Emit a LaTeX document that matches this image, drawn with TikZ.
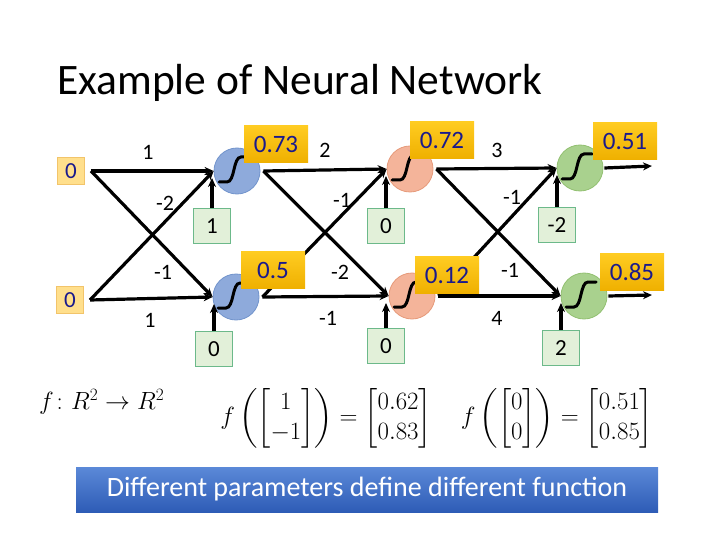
\documentclass[tikz,border=0pt]{standalone}
\usepackage{fontspec}
\usepackage{amsmath}
\setmainfont{Carlito}
\usetikzlibrary{arrows.meta,calc}
\definecolor{inFill}{HTML}{FFDF8C}
\definecolor{inDraw}{HTML}{F2C46A}
\definecolor{outTop}{HTML}{FFCC22}
\definecolor{outBot}{HTML}{EFB000}
\definecolor{txtBlue}{HTML}{1A1A8C}
\definecolor{biasFill}{HTML}{E2F0D9}
\definecolor{biasDraw}{HTML}{6CB98A}
\definecolor{blueFill}{HTML}{8EAADB}
\definecolor{blueDraw}{HTML}{7294CC}
\definecolor{orFill}{HTML}{F4B49A}
\definecolor{orDraw}{HTML}{E69A7A}
\definecolor{grFill}{HTML}{A9D18E}
\definecolor{grDraw}{HTML}{92C071}
\definecolor{barTop}{HTML}{5B89D8}
\definecolor{barBot}{HTML}{2E5CB6}
\tikzset{
  inbox/.style={draw=inDraw, fill=inFill, line width=1pt, minimum width=27pt, minimum height=27pt, inner sep=0pt, text=txtBlue, font=\fontsize{23}{26}\selectfont},
  outbox/.style={top color=outTop, bottom color=outBot, draw=none, minimum width=64pt, minimum height=37pt, inner sep=0pt, text=txtBlue, font=\fontsize{25}{28}\selectfont},
  biasbox/.style={draw=biasDraw, fill=biasFill, line width=1pt, minimum width=37pt, minimum height=35pt, inner sep=0pt, font=\fontsize{23}{26}\selectfont},
  neuron/.style={circle, minimum size=46pt, inner sep=0pt, line width=0.8pt},
  bneuron/.style={neuron, fill=blueFill, draw=blueDraw},
  oneuron/.style={neuron, fill=orFill, draw=orDraw},
  gneuron/.style={neuron, fill=grFill, draw=grDraw},
  arr/.style={line width=3.2pt, -{Stealth[length=9pt,width=8pt]}},
  wlabel/.style={font=\fontsize{22}{26}\selectfont, inner sep=0pt},
  sigline/.style={line width=3pt, line cap=round}
}
\newcommand{\sigmoidin}[1]{%
  \draw[sigline] ([shift={(-18pt,-11pt)}]#1.center) -- ([shift={(-10pt,-11pt)}]#1.center)
    .. controls ([shift={(-2pt,-11pt)}]#1.center) and ([shift={(-4pt,14pt)}]#1.center)
    .. ([shift={(4pt,14pt)}]#1.center) -- ([shift={(12pt,14pt)}]#1.center);}
\begin{document}
\begin{tikzpicture}[x=1pt,y=-1pt]
\useasboundingbox (0,0) rectangle (720,540);
% title
\node[anchor=base west, inner sep=0pt, font=\fontsize{43.5}{50}\selectfont] (title) at (57,95) {Example of Neural Network};
% inputs
\node[inbox] (in1) at (71,171) {0};
\node[inbox] (in2) at (70,300) {0};
% neurons
\node[bneuron] (n1) at (237,171) {};
\node[bneuron] (n2) at (236,297) {};
\node[oneuron] (n3) at (410,169) {};
\node[oneuron] (n4) at (412,296) {};
\node[gneuron] (n5) at (580,168) {};
\node[gneuron] (n6) at (584,296) {};
\foreach \n in {n1,n2,n3,n4,n5,n6} {\sigmoidin{\n}}
% bias boxes
\node[biasbox] (b1) at (212,226) {1};
\node[biasbox] (b2) at (214,349) {0};
\node[biasbox] (b3) at (386,226) {0};
\node[biasbox] (b4) at (386,346) {0};
\node[biasbox] (b5) at (557,225) {-2};
\node[biasbox] (b6) at (561,348) {2};
% start points
\coordinate (s1) at ([xshift=6pt]in1.east);
\coordinate (s2) at ([xshift=6pt]in2.east);
\coordinate (e1) at ([xshift=3pt]n1.east);
\coordinate (e2) at ([xshift=3pt]n2.east);
\coordinate (e3) at ([xshift=3pt]n3.east);
\coordinate (e4) at ([xshift=3pt]n4.east);
\coordinate (e5) at ([xshift=1pt]n5.east);
\coordinate (e6) at ([xshift=1pt]n6.east);
\coordinate (o5) at (652,166);
\coordinate (o6) at (652,295);
% layer 1
\draw[arr] (s1) -- (n1.west);
\draw[arr] (s1) -- (n2.west);
\draw[arr] (s2) -- (n1.west);
\draw[arr] (s2) -- (n2.west);
% layer 2
\draw[arr] (e1) -- (n3.west);
\draw[arr] (e1) -- (n4.west);
\draw[arr] (e2) -- (n3.west);
\draw[arr] (e2) -- (n4.west);
% layer 3
\draw[arr] (e3) -- (n5.west);
\draw[arr] (e3) -- (n6.west);
\draw[arr] (e4) -- (n5.west);
\draw[arr] (e4) -- (n6.west);
% outputs
\draw[arr] (e5) -- (o5);
\draw[arr] (e6) -- (o6);
% bias arrows
\foreach \b/\n in {b1/n1,b2/n2,b3/n3,b4/n4,b5/n5,b6/n6} {
  \coordinate (t\n) at ([yshift=-7pt]\n.west);
  \draw[arr] (\b.north) -- (\b.north |- t\n);
}
% output labels
\node[outbox] (l1) at (276,144) {0.73};
\node[outbox] (l2) at (273,270) {0.5};
\node[outbox] (l3) at (442,140) {0.72};
\node[outbox] (l4) at (447,275) {0.12};
\node[outbox] (l5) at (625,141) {0.51};
\node[outbox] (l6) at (632,272) {0.85};
% weight labels
\node[wlabel] (w1) at (148,152) {1};
\node[wlabel] (w2) at (165,203) {-2};
\node[wlabel] (w3) at (163,272) {-1};
\node[wlabel] (w4) at (150,320) {1};
\node[wlabel] (w5) at (325,150) {2};
\node[wlabel] (w6) at (342,200) {-1};
\node[wlabel] (w7) at (340,272) {-2};
\node[wlabel] (w8) at (328,318) {-1};
\node[wlabel] (w9) at (497,150) {3};
\node[wlabel] (w10) at (512,197) {-1};
\node[wlabel] (w11) at (510,270) {-1};
\node[wlabel] (w12) at (497,318) {4};
% formulas
\node[anchor=west, inner sep=0pt, font=\fontsize{24}{28}\selectfont] (fdef) at (39,402) {$f\colon R^2\to R^2$};
\node[inner sep=0pt, font=\fontsize{25}{30}\selectfont] (eq1) at (326,418) {$f\left(\begin{bmatrix}1\\-1\end{bmatrix}\right)=\begin{bmatrix}0.62\\0.83\end{bmatrix}$};
\node[inner sep=0pt, font=\fontsize{25}{30}\selectfont] (eq2) at (557,418) {$f\left(\begin{bmatrix}0\\0\end{bmatrix}\right)=\begin{bmatrix}0.51\\0.85\end{bmatrix}$};
% bar
\node[top color=barTop, bottom color=barBot, minimum width=582pt, minimum height=45pt, inner sep=0pt, text=white, font=\fontsize{28}{32}\selectfont] (bar) at (367,489.5) {Different parameters define different function};
\end{tikzpicture}
\end{document}
